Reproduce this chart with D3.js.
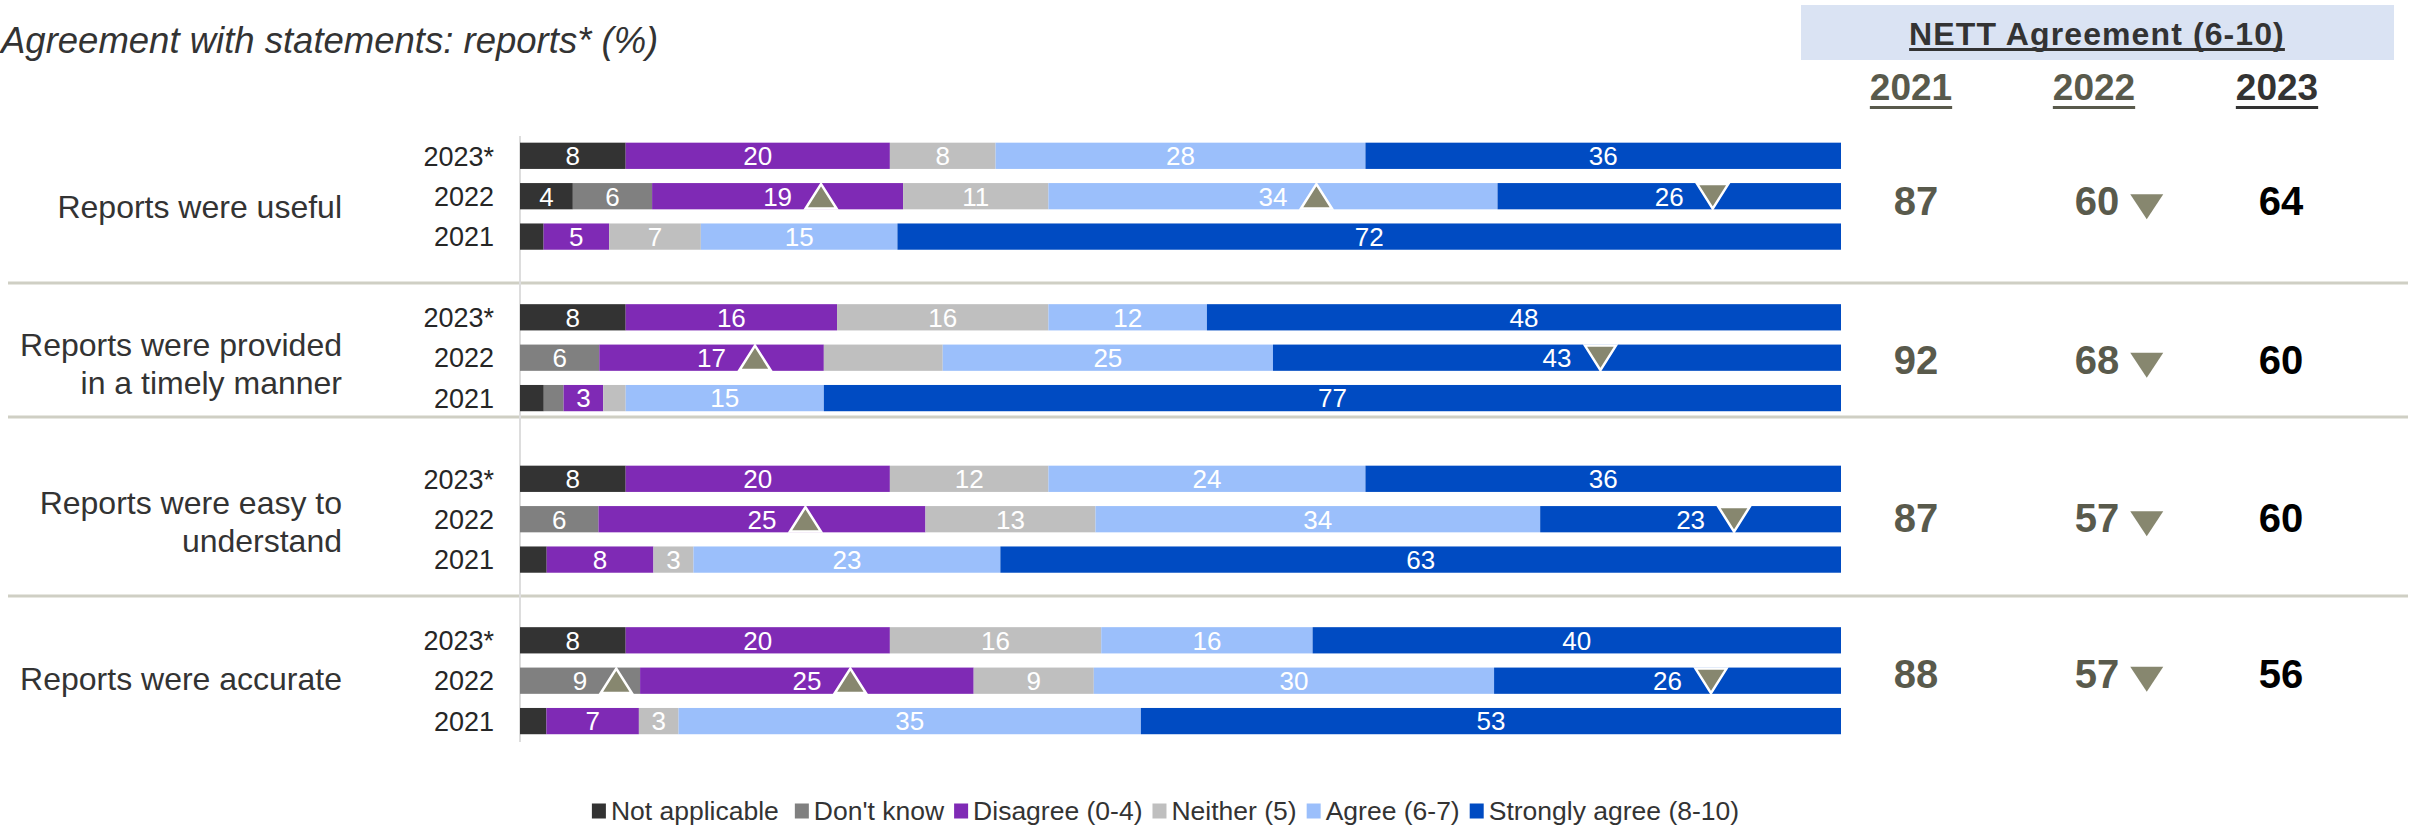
<!DOCTYPE html>
<html>
<head>
<meta charset="utf-8">
<script src="https://cdn.jsdelivr.net/npm/d3@7"></script>
<style>
  html, body { margin: 0; padding: 0; background: #ffffff; overflow: hidden; }
  svg { display: block; font-family: "Liberation Sans", Arial, sans-serif; }
</style>
</head>
<body>
<svg id="chart" width="2414" height="826"></svg>
<script>
// ---- Data -----------------------------------------------------------------
const statements = [
  ["Reports were useful"],
  ["Reports were provided", "in a timely manner"],
  ["Reports were easy to", "understand"],
  ["Reports were accurate"]
];
const years = ["2023*", "2022", "2021"];
const seriesKeys = ["na", "dk", "dis", "nei", "agr", "str"];
const seriesNames = ["Not applicable", "Don't know", "Disagree (0-4)", "Neither (5)", "Agree (6-7)", "Strongly agree (8-10)"];

// one inner array per statement, rows ordered 2023*, 2022, 2021 (%)
const notApplicable = [[8, 4, 1.8], [8, 0, 1.8], [8, 0, 2], [8, 0, 2]];
const dontKnow      = [[0, 6, 0],   [0, 6, 1.5], [0, 6, 0], [0, 9, 0]];
const disagree      = [[20, 19, 5], [16, 17, 3], [20, 25, 8], [20, 25, 7]];
const neither       = [[8, 11, 7],  [16, 9, 1.7], [12, 13, 3], [16, 9, 3]];
const agree         = [[28, 34, 15], [12, 25, 15], [24, 34, 23], [16, 30, 35]];
const stronglyAgree = [[36, 26, 72], [48, 43, 77], [36, 23, 63], [40, 26, 53]];

// segments drawn without a value label: [statement, year, series]
const unlabelled = [[0, "2021", "na"], [1, "2021", "na"], [1, "2021", "dk"], [1, "2021", "nei"],
                    [1, "2022", "nei"], [2, "2021", "na"], [3, "2021", "na"]];

// significant change versus the previous wave
const sigUp   = [[0, "2022", "dis"], [0, "2022", "agr"], [1, "2022", "dis"], [2, "2022", "dis"],
                 [3, "2022", "dk"], [3, "2022", "dis"]];
const sigDown = [[0, "2022", "str"], [1, "2022", "str"], [2, "2022", "str"], [3, "2022", "str"]];

// NETT agreement (6-10) per statement
const nettYears = ["2021", "2022", "2023"];
const nett2021 = [87, 92, 87, 88];
const nett2022 = [60, 68, 57, 57];
const nett2023 = [64, 60, 60, 56];
const nett2022Down = [true, true, true, true];

// ---- Styling / layout ---------------------------------------------------
const colors = {
  na: "#333333", dk: "#808080", dis: "#7F2AB5",
  nei: "#BFBFBF", agr: "#9BBFFB", str: "#004BC2"
};
const sigFill = "#87876F";
const labelDark = "#333333";
const nettOld = "#595A4C";

const barLeft = 520, barRight = 1841;
const groupTop = 135.6, groupStep = 161.5;
const dividerY = [283, 417, 596];
const statementDy = [22, -2, -5, 9];
const nettDy = [19, 16, 13, 7];
const nettX = { "2021": 1916, "2022": 2097, "2023": 2281 };
const headerX = { "2021": 1911, "2022": 2094, "2023": 2277 };

const svg = d3.select("#chart");

// ---- Scales --------------------------------------------------------------
const x = d3.scaleLinear().domain([0, 1]).range([barLeft, barRight]);
const yGroup = d3.scaleBand()
  .domain(d3.range(statements.length))
  .range([groupTop, groupTop + groupStep * statements.length])
  .padding(0);
const yRow = d3.scaleBand()
  .domain(years)
  .range([0, 121.2])
  .paddingInner(0.35)
  .paddingOuter(0.175);

const seriesArrays = { na: notApplicable, dk: dontKnow, dis: disagree, nei: neither, agr: agree, str: stronglyAgree };

const rows = [];
statements.forEach((s, gi) => {
  years.forEach((yr, ri) => {
    const r = { group: gi, year: yr };
    seriesKeys.forEach(k => { r[k] = seriesArrays[k][gi][ri]; });
    rows.push(r);
  });
});

const stacked = d3.stack().keys(seriesKeys).offset(d3.stackOffsetExpand)(rows);

const rowY = d => yGroup(d.group) + yRow(d.year);
const keyOf = (g, yr, k) => g + "|" + yr + "|" + k;
const hidden = new Set(unlabelled.map(a => keyOf(...a)));

// ---- Title ---------------------------------------------------------------
svg.append("text")
  .attr("x", 1).attr("y", 53)
  .attr("text-anchor", "start")
  .attr("font-size", 36.5).attr("font-style", "italic")
  .attr("fill", labelDark)
  .text("Agreement with statements: reports* (%)");

// ---- NETT header ---------------------------------------------------------
svg.append("rect")
  .attr("x", 1801).attr("y", 5).attr("width", 593).attr("height", 55)
  .attr("fill", "#DAE3F3");

function underlinedText(tx, ty, txt, size, fill, spacing, ulY) {
  const t = svg.append("text")
    .attr("x", tx).attr("y", ty)
    .attr("text-anchor", "middle")
    .attr("font-size", size).attr("font-weight", "bold")
    .attr("letter-spacing", spacing)
    .attr("fill", fill)
    .text(txt);
  const bb = t.node().getBBox();
  svg.append("rect")
    .attr("x", bb.x).attr("y", ulY).attr("width", bb.width).attr("height", 3)
    .attr("fill", fill);
}
underlinedText(2097, 45, "NETT Agreement (6-10)", 32, labelDark, 1.1, 48);
nettYears.forEach(yr => {
  underlinedText(headerX[yr], 100, yr, 37, yr === "2023" ? labelDark : nettOld, 0, 106);
});

// ---- Dividers and axis line ----------------------------------------------
svg.append("g").selectAll("line").data(dividerY).join("line")
  .attr("x1", 8).attr("x2", 2408)
  .attr("y1", d => d).attr("y2", d => d)
  .attr("stroke", "#CFCFC4").attr("stroke-width", 3);

svg.append("line")
  .attr("x1", barLeft).attr("x2", barLeft)
  .attr("y1", 136).attr("y2", 742)
  .attr("stroke", "#DDDDDD").attr("stroke-width", 2);

// ---- Statement and year labels ---------------------------------------------
statements.forEach((lines, gi) => {
  const mid = yGroup(gi) + yRow("2022") + yRow.bandwidth() / 2;
  const t = svg.append("text")
    .attr("x", 342).attr("y", mid + statementDy[gi])
    .attr("text-anchor", "end")
    .attr("font-size", 32)
    .attr("fill", labelDark);
  lines.forEach((ln, li) => {
    t.append("tspan").attr("x", 342).attr("dy", li === 0 ? 0 : 38).text(ln);
  });
});

svg.append("g").selectAll("text").data(rows).join("text")
  .attr("x", 494)
  .attr("y", d => rowY(d) + yRow.bandwidth() / 2)
  .attr("dy", "0.36em")
  .attr("text-anchor", "end")
  .attr("font-size", 27)
  .attr("fill", "#262626")
  .text(d => d.year);

// ---- Bars ----------------------------------------------------------------
const layers = svg.append("g").selectAll("g").data(stacked).join("g")
  .attr("fill", s => colors[s.key]);

layers.selectAll("rect").data(s => s.map(seg => ({ seg, key: s.key }))).join("rect")
  .attr("x", d => x(d.seg[0]))
  .attr("y", d => rowY(d.seg.data))
  .attr("width", d => x(d.seg[1]) - x(d.seg[0]))
  .attr("height", yRow.bandwidth());

// value labels
const labelG = svg.append("g");
const labelNodes = {};
stacked.forEach(s => {
  s.forEach(seg => {
    const v = seg.data[s.key];
    const k = keyOf(seg.data.group, seg.data.year, s.key);
    if (!v || hidden.has(k)) return;
    const cx = (x(seg[0]) + x(seg[1])) / 2;
    const t = labelG.append("text")
      .attr("x", cx)
      .attr("y", rowY(seg.data) + yRow.bandwidth() / 2)
      .attr("dy", "0.36em")
      .attr("text-anchor", "middle")
      .attr("font-size", 26)
      .attr("fill", "#ffffff")
      .text(d3.format("d")(v));
    labelNodes[k] = { node: t.node(), cx, seg };
  });
});

// significance triangles beside the value labels
function triPath(cx, top, w, h, up) {
  return up
    ? `M${cx - w / 2},${top + h}L${cx + w / 2},${top + h}L${cx},${top}Z`
    : `M${cx - w / 2},${top}L${cx + w / 2},${top}L${cx},${top + h}Z`;
}
function drawSig(list, up) {
  list.forEach(m => {
    const info = labelNodes[keyOf(...m)];
    if (!info) return;
    const tw = info.node.getComputedTextLength();
    const cx = info.cx + tw / 2 + 29;
    const top = rowY(info.seg.data) + 1;
    svg.append("path")
      .attr("d", triPath(cx, top, 31, 24.5, up))
      .attr("fill", sigFill)
      .attr("stroke", "#ffffff").attr("stroke-width", 2.5)
      .attr("stroke-linejoin", "miter");
  });
}
drawSig(sigUp, true);
drawSig(sigDown, false);

// ---- NETT values -----------------------------------------------------------
const nettCols = [
  { yr: "2021", vals: nett2021, fill: nettOld },
  { yr: "2022", vals: nett2022, fill: nettOld },
  { yr: "2023", vals: nett2023, fill: "#000000" }
];
nettCols.forEach(col => {
  col.vals.forEach((v, gi) => {
    const base = yGroup(gi) + yRow("2022") + yRow.bandwidth() / 2 + nettDy[gi];
    const t = svg.append("text")
      .attr("x", nettX[col.yr]).attr("y", base)
      .attr("text-anchor", "middle")
      .attr("font-size", 40).attr("font-weight", "bold")
      .attr("fill", col.fill)
      .text(v);
    if (col.yr === "2022" && nett2022Down[gi]) {
      const right = nettX[col.yr] + t.node().getComputedTextLength() / 2;
      svg.append("path")
        .attr("d", triPath(right + 11 + 16.5, base - 21, 33, 25, false))
        .attr("fill", sigFill);
    }
  });
});

// ---- Legend ----------------------------------------------------------------
const legend = svg.append("g");
let lx = 0;
seriesKeys.forEach((k, i) => {
  const item = legend.append("g").attr("transform", `translate(${lx},0)`);
  item.append("rect").attr("x", 0).attr("y", 803.5).attr("width", 14).attr("height", 15)
    .attr("fill", colors[k]);
  const t = item.append("text").attr("x", 19).attr("y", 819.5)
    .attr("font-size", 26.5).attr("fill", labelDark).text(seriesNames[i]);
  lx += 19 + t.node().getComputedTextLength() + (i === 0 ? 16 : 10);
});
const legendW = lx - 10;
legend.attr("transform", `translate(${1165.5 - legendW / 2},0)`);
</script>
</body>
</html>
